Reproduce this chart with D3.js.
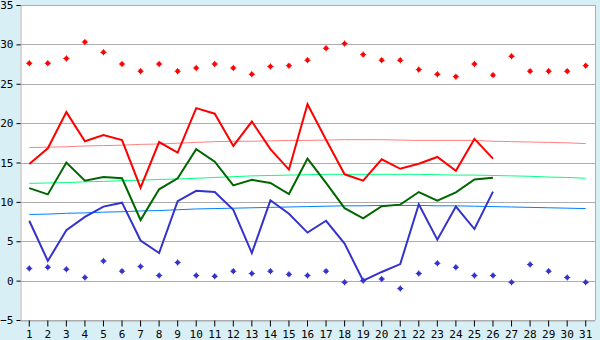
<!DOCTYPE html>
<html><head><meta charset="utf-8">
<script src="https://cdn.jsdelivr.net/npm/d3@7"></script>
<style>
html,body{margin:0;padding:0;background:#d9eff6;}
svg{display:block;}
text{font-family:"DejaVu Sans Mono",monospace;font-size:11px;fill:#000;}
</style></head>
<body>
<svg id="c" width="600" height="340"></svg>
<script>
const days = d3.range(1, 32);
const yTicks = [-5, 0, 5, 10, 15, 20, 25, 30, 35];
// daily mean max (days 1-26)
const meanMax = [14.8,16.8,21.4,17.7,18.5,17.85,11.8,17.6,16.25,21.9,21.2,17.1,20.2,16.7,14.1,22.4,17.9,13.5,12.7,15.4,14.2,14.85,15.7,13.95,18.0,15.5];
// daily mean
const meanAvg = [11.75,10.95,15.0,12.7,13.15,13.0,7.7,11.6,13.0,16.7,15.1,12.1,12.8,12.4,11.0,15.5,12.4,9.2,7.9,9.45,9.65,11.25,10.15,11.2,12.85,13.05];
// daily mean min
const meanMin = [7.6,2.5,6.4,8.1,9.4,9.9,5.1,3.5,10.1,11.4,11.25,9.0,3.5,10.2,8.5,6.1,7.6,4.7,0.0,1.1,2.1,9.7,5.2,9.4,6.55,11.3];
// extreme max (points)
const extMax = [27.6,27.6,28.2,30.3,29.0,27.5,26.6,27.5,26.6,27.0,27.5,27.0,26.2,27.2,27.3,28.0,29.5,30.1,28.7,28.0,28.0,26.8,26.2,25.9,27.5,26.1,28.5,26.6,26.6,26.6,27.3];
// extreme min (points)
const extMin = [1.55,1.7,1.45,0.4,2.5,1.2,1.8,0.65,2.3,0.65,0.55,1.2,0.9,1.2,0.8,0.65,1.2,-0.2,0.0,0.2,-1.0,0.9,2.2,1.7,0.65,0.65,-0.2,2.05,1.2,0.4,-0.2];
// normals (smooth lines)
const normMax = [16.9,16.95,17.0,17.1,17.15,17.2,17.3,17.35,17.45,17.55,17.65,17.7,17.7,17.75,17.8,17.8,17.85,17.9,17.9,17.9,17.85,17.8,17.8,17.8,17.8,17.7,17.65,17.6,17.55,17.5,17.4];
const normAvg = [12.35,12.4,12.45,12.55,12.6,12.7,12.75,12.85,12.9,13.0,13.1,13.2,13.3,13.35,13.4,13.45,13.5,13.5,13.5,13.5,13.5,13.5,13.45,13.4,13.4,13.35,13.3,13.25,13.15,13.1,13.0];
const normMin = [8.4,8.45,8.55,8.6,8.7,8.75,8.85,8.9,9.0,9.1,9.15,9.2,9.25,9.3,9.35,9.4,9.45,9.5,9.5,9.55,9.55,9.55,9.5,9.5,9.45,9.4,9.35,9.3,9.25,9.2,9.15];

const svg = d3.select("#c");
const L = 20, R = 595, T = 5, B = 320;
const x = d3.scaleBand().domain(days).range([L, R]).paddingInner(0).paddingOuter(0);
const cx = d => x(d) + x.bandwidth() / 2;
const y = d3.scaleLinear().domain([-5, 35]).range([B, T]);

svg.append("rect").attr("x", L).attr("y", T).attr("width", R - L).attr("height", B - T).attr("fill", "#fff");

// gridlines
svg.append("g").selectAll("line").data(yTicks).join("line")
  .attr("x1", L).attr("x2", R)
  .attr("y1", d => Math.round(y(d)) + 0.5).attr("y2", d => Math.round(y(d)) + 0.5)
  .attr("stroke", "#adadad").attr("stroke-width", 1).attr("shape-rendering", "crispEdges");
svg.append("line").attr("x1", R + 0.5).attr("x2", R + 0.5).attr("y1", T).attr("y2", B)
  .attr("stroke", "#adadad").attr("shape-rendering", "crispEdges");

// axes
const yAxis = d3.axisLeft(y).tickValues(yTicks).tickSize(4).tickPadding(3).tickFormat(d3.format("d"));
const gy = svg.append("g").attr("transform", `translate(${L + 0.5},0)`).call(yAxis);
gy.select(".domain").attr("stroke", "#adadad");
gy.selectAll(".tick line").attr("stroke", "#000");
gy.selectAll("text").style("font-family", "DejaVu Sans Mono").style("font-size", "11px");

const xAxis = d3.axisBottom(x).tickSize(6).tickSizeOuter(0).tickPadding(4);
const gx = svg.append("g").attr("transform", `translate(0,${B + 0.5})`).call(xAxis);
gx.select(".domain").attr("stroke", "#adadad");
gx.selectAll(".tick line").attr("stroke", "#000");
gx.selectAll("text").style("font-family", "DejaVu Sans Mono").style("font-size", "11px");

const line = d3.line().x((v, i) => cx(days[i])).y(v => y(v));

function drawLine(vals, color, w) {
  svg.append("path").datum(vals).attr("d", line).attr("fill", "none")
    .attr("stroke", color).attr("stroke-width", w).attr("stroke-linejoin", "miter");
}
drawLine(normMax, "#ff8080", 1);
drawLine(normAvg, "#00ff80", 1);
drawLine(normMin, "#0080ff", 1);
drawLine(meanMax, "#ff0000", 2);
drawLine(meanAvg, "#006600", 2);
drawLine(meanMin, "#3333cc", 2);

const marker = "M0,-3.5L1.2,-1.2L3.5,0L1.2,1.2L0,3.5L-1.2,1.2L-3.5,0L-1.2,-1.2Z M-1.8,-1.8H1.8V1.8H-1.8Z";
function drawPts(vals, color) {
  svg.append("g").selectAll("path").data(vals).join("path")
    .attr("d", marker)
    .attr("transform", (v, i) => `translate(${cx(days[i])},${y(v)})`)
    .attr("fill", color).attr("fill-rule", "nonzero");
}
drawPts(extMax, "#ff0000");
drawPts(extMin, "#3333cc");
</script>
</body></html>
